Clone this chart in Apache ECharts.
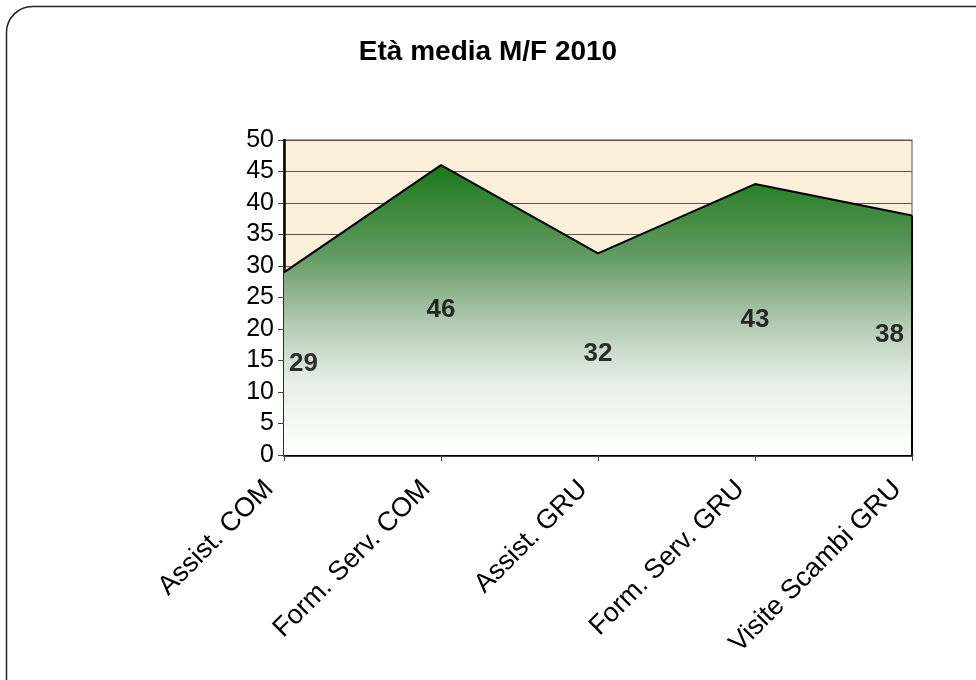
<!DOCTYPE html>
<html>
<head>
<meta charset="utf-8">
<script src="https://cdn.jsdelivr.net/npm/echarts@6/dist/echarts.min.js"></script>
<style>html,body{margin:0;padding:0;background:#fff}#c{width:976px;height:680px}</style>
</head>
<body>
<div id="c"></div>
<script>
const titleText = 'Età media M/F 2010';
const categories = ['Assist. COM', 'Form. Serv. COM', 'Assist. GRU', 'Form. Serv. GRU', 'Visite Scambi GRU'];
const values = [29, 46, 32, 43, 38];
const yTicks = { min: 0, max: 50, interval: 5 };

const chart = echarts.init(document.getElementById('c'));
const last = categories.length - 1;
const labelData = values.map((v, i) => ({
  value: [categories[i], v / 2, v],
  label: i === 0 ? { align: 'left', offset: [5, 0] } : (i === last ? { align: 'right', offset: [-8, 0] } : {})
}));

chart.setOption({
  backgroundColor: '#ffffff',
  animation: false,
  title: {
    text: titleText, left: 'center', top: 33,
    textStyle: { fontFamily: 'Liberation Sans, Arial', fontSize: 28, fontWeight: 'bold', color: '#000' }
  },
  graphic: [{
    type: 'rect', z: -10, silent: true,
    shape: { x: 6.5, y: 6.5, width: 1000, height: 700, r: 26 },
    style: { fill: 'none', stroke: '#222', lineWidth: 1.5 }
  }],
  grid: {
    left: 284, right: 64, top: 140, bottom: 225,
    show: true, backgroundColor: '#fcf0da', borderColor: '#8a8a8a', borderWidth: 1.5
  },
  xAxis: {
    type: 'category', data: categories, boundaryGap: false,
    axisLine: { lineStyle: { color: '#000', width: 2.5 } },
    axisTick: { show: true, length: 6, lineStyle: { color: '#444' } },
    axisLabel: { rotate: 45, fontSize: 27, fontFamily: 'Liberation Sans, Arial', color: '#000', margin: 15, padding: [0, 21, 0, 0] },
    splitLine: { show: false }
  },
  yAxis: {
    type: 'value', min: yTicks.min, max: yTicks.max, interval: yTicks.interval,
    axisLine: { show: true, lineStyle: { color: '#000', width: 2.5 } },
    axisTick: { show: true, length: 6, lineStyle: { color: '#444' } },
    axisLabel: { fontSize: 25, fontFamily: 'Liberation Sans, Arial', color: '#000', margin: 10 },
    splitLine: { lineStyle: { color: '#555', width: 1 } }
  },
  series: [{
    type: 'line', data: values, symbol: 'none', z: 3,
    lineStyle: { color: '#000', width: 2 },
    areaStyle: {
      opacity: 1,
      color: new echarts.graphic.LinearGradient(0, 0, 0, 1, [
        { offset: 0, color: '#1a781a' },
        { offset: 0.3, color: '#5f985f' },
        { offset: 0.55, color: '#b4cab4' },
        { offset: 0.75, color: '#e6f0e6' },
        { offset: 1, color: '#ffffff' }
      ])
    },
    markLine: {
      symbol: 'none', silent: true, label: { show: false },
      lineStyle: { color: '#000', width: 2, type: 'solid' },
      data: [[{ coord: [categories[last], 0] }, { coord: [categories[last], values[last]] }]]
    }
  }, {
    type: 'scatter', data: labelData, symbolSize: 0, z: 5,
    label: {
      show: true, position: 'inside',
      formatter: p => String(p.value[2]),
      fontSize: 26, fontWeight: 'bold', fontFamily: 'Liberation Sans, Arial', color: '#000'
    }
  }]
});
</script>
</body>
</html>
